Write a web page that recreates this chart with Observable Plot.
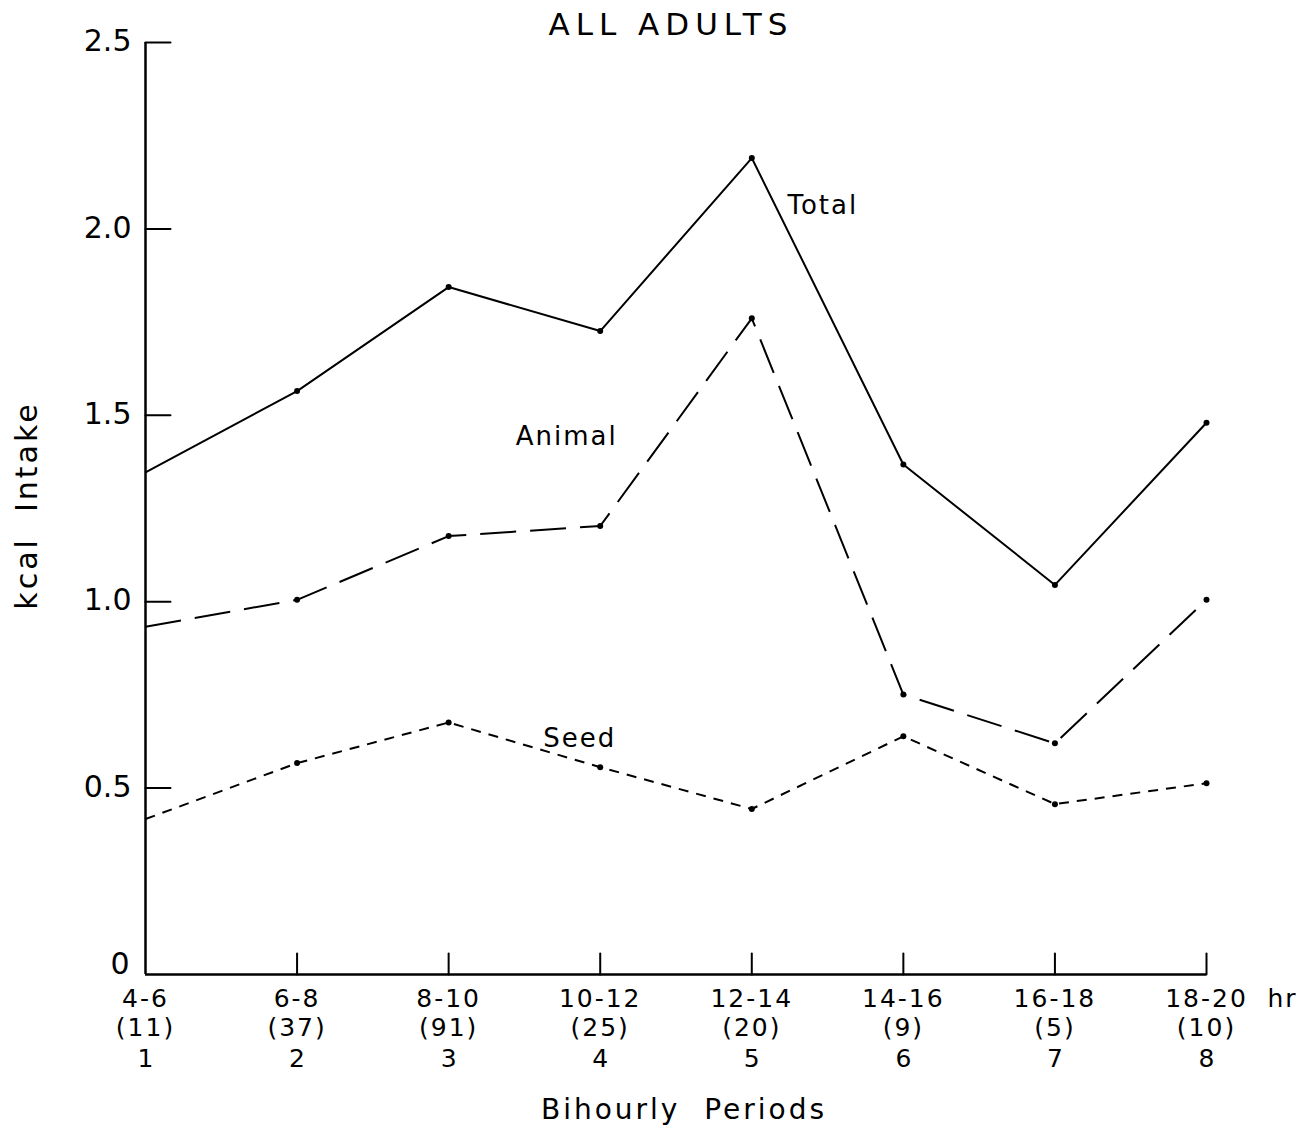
<!DOCTYPE html>
<html>
<head>
<meta charset="utf-8">
<script src="https://cdn.jsdelivr.net/npm/d3@7"></script>
<script src="https://cdn.jsdelivr.net/npm/@observablehq/plot@0.6"></script>
<style>
  html, body { margin: 0; padding: 0; background: #fff; }
  svg text { fill: #000; }
</style>
</head>
<body>
<div id="chart"></div>
<script>
// ---- data ----
const periods = [1, 2, 3, 4, 5, 6, 7, 8];
const hourRanges = ["4-6", "6-8", "8-10", "10-12", "12-14", "14-16", "16-18", "18-20"];
const sampleSizes = ["(11)", "(37)", "(91)", "(25)", "(20)", "(9)", "(5)", "(10)"];
const totalKcal  = [1.347, 1.565, 1.844, 1.726, 2.19, 1.368, 1.045, 1.48];
const animalKcal = [0.933, 1.005, 1.176, 1.203, 1.76, 0.751, 0.62, 1.005];
const seedKcal   = [0.417, 0.567, 0.676, 0.556, 0.444, 0.639, 0.457, 0.513];
const yLabelTicks = [0, 0.5, 1.0, 1.5, 2.0, 2.5];
const yTickLabels = ["0", "0.5", "1.0", "1.5", "2.0", "2.5"];
const yMarkTicks = [0.5, 1.0, 1.5, 2.0, 2.5];
const xMarkTicks = [2, 3, 4, 5, 6, 7, 8];
const seriesNames = ["Total", "Animal", "Seed"];

// table built from arrays
const seriesValues = {Total: totalKcal, Animal: animalKcal, Seed: seedKcal};
const rows = seriesNames.flatMap(s => periods.map((p, i) => ({series: s, period: p, kcal: seriesValues[s][i]})));
const yLabelRows = yLabelTicks.map((v, i) => ({v, label: yTickLabels[i]}));
const dashBy = {Total: null, Animal: "36,14", Seed: "10,8"};

const font = "DejaVu Sans, Verdana, sans-serif";
const tickShape = {draw(context, l) { context.moveTo(0, 0); context.lineTo(0, -l); }};

const lineMarks = seriesNames.map(s => Plot.line(rows.filter(r => r.series === s), {
  x: "period", y: "kcal", stroke: "#000", strokeWidth: 2,
  strokeDasharray: dashBy[s], strokeLinejoin: "miter", strokeLinecap: "butt"
}));

// series label attached to a data point with a pixel offset
function seriesLabel(name, idx, dx, dy) {
  return Plot.text([name], {
    x: () => periods[idx], y: () => seriesValues[name][idx],
    dx, dy, text: d => d, fontSize: 26, textAnchor: "middle", lineAnchor: "middle"
  });
}

const chart = Plot.plot({
  width: 1316,
  height: 1134,
  marginLeft: 145,
  marginRight: 110,
  marginTop: 42,
  marginBottom: 160,
  style: {fontFamily: font, fontSize: "26px", color: "#000", background: "#fff"},
  x: {domain: [1, 8], axis: null},
  y: {domain: [0, 2.5], axis: null},
  marks: [
    ...lineMarks,
    Plot.dot(rows.filter(r => r.period !== periods[0]), {x: "period", y: "kcal", r: 3, fill: "#000", stroke: null}),
    // axes lines
    Plot.ruleX([periods[0]], {stroke: "#000", strokeWidth: 2.5}),
    Plot.ruleY([0], {stroke: "#000", strokeWidth: 2.5}),
    // inward ticks
    Plot.vector(yMarkTicks, {y: d => d, frameAnchor: "left", rotate: 90, length: 25, anchor: "start", shape: tickShape, stroke: "#000", strokeWidth: 2}),
    Plot.vector(xMarkTicks, {x: d => d, frameAnchor: "bottom", rotate: 0, length: 21, anchor: "start", shape: tickShape, stroke: "#000", strokeWidth: 2}),
    // y tick labels (the zero sits a little higher, as in the original)
    Plot.text(yLabelRows.filter(d => d.v !== 0), {y: "v", frameAnchor: "left", dx: -14, dy: -1, textAnchor: "end", lineAnchor: "middle", text: "label", fontSize: 30}),
    Plot.text(yLabelRows.filter(d => d.v === 0), {y: "v", frameAnchor: "left", dx: -16, dy: -10, textAnchor: "end", lineAnchor: "middle", text: "label", fontSize: 30}),
    // x tick labels, three rows
    Plot.text(periods, {x: d => d, frameAnchor: "bottom", dy: 24, lineAnchor: "middle", textAnchor: "middle", text: (d, i) => hourRanges[i], fontSize: 25}),
    Plot.text(periods, {x: d => d, frameAnchor: "bottom", dy: 53, lineAnchor: "middle", textAnchor: "middle", text: (d, i) => sampleSizes[i], fontSize: 25}),
    Plot.text(periods, {x: d => d, frameAnchor: "bottom", dy: 84, lineAnchor: "middle", textAnchor: "middle", text: d => String(d), fontSize: 25}),
    Plot.text([periods[periods.length - 1]], {x: d => d, frameAnchor: "bottom", dy: 24, dx: 76, lineAnchor: "middle", textAnchor: "middle", text: () => "hr", fontSize: 25}),
    // axis titles
    Plot.text(["Bihourly  Periods"], {frameAnchor: "bottom", dy: 136, dx: 8, lineAnchor: "middle", textAnchor: "middle", text: d => d, fontSize: 28}),
    Plot.text(["kcal  Intake"], {frameAnchor: "left", dx: -118, dy: -3, rotate: -90, lineAnchor: "middle", textAnchor: "middle", text: d => d, fontSize: 30}),
    Plot.text(["ALL ADULTS"], {frameAnchor: "top", dy: -17, dx: -5, lineAnchor: "middle", textAnchor: "middle", text: d => d, fontSize: 31}),
    // series labels
    seriesLabel("Total", 4, 71, 48),
    seriesLabel("Animal", 2, 118, -99),
    seriesLabel("Seed", 2, 131, 16)
  ]
});
document.getElementById("chart").appendChild(chart);

// letter spacing to mimic the wide hand lettering
const spacing = {"ALL ADULTS": 6, "kcal  Intake": 3, "Bihourly  Periods": 3, "Total": 2, "Animal": 2, "Seed": 2};
d3.select(chart).selectAll("text").each(function() {
  const t = this.textContent;
  let s = spacing[t];
  if (s === undefined) s = (hourRanges.includes(t) || sampleSizes.includes(t) || t === "hr") ? 2 : 0;
  if (s) this.style.letterSpacing = s + "px";
});
</script>
</body>
</html>
